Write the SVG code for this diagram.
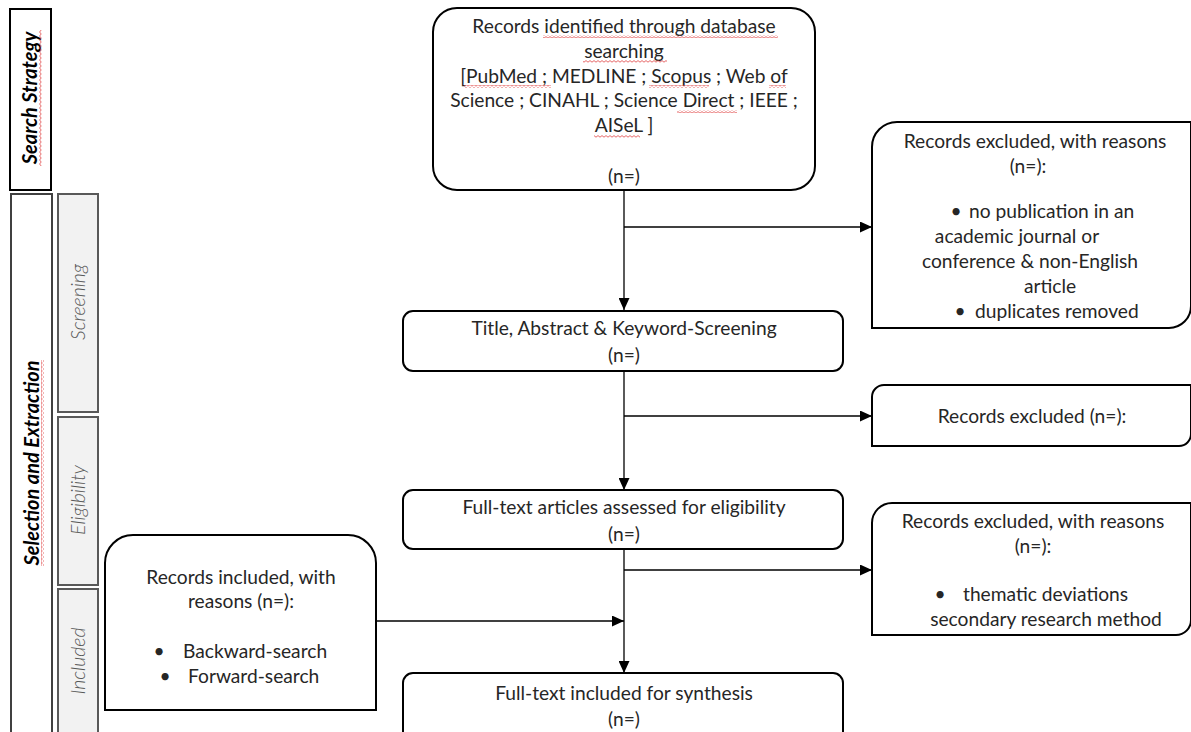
<svg xmlns="http://www.w3.org/2000/svg" width="1191" height="732" viewBox="0 0 1191 732">
<defs>
<style>
.box{fill:#fff;stroke:#000;stroke-width:2}
.side{fill:#fff;stroke:#404040;stroke-width:2}
.sub{fill:#f2f2f2;stroke:#595959;stroke-width:2}
.t{font-family:Lato,"Open Sans",sans-serif;font-size:19.2px;fill:#262626;text-anchor:middle}
.s{text-anchor:start}
.lab{font-family:Lato,"Open Sans",sans-serif;font-size:20px;font-weight:bold;font-style:italic;fill:#000;text-anchor:middle}
.slab{font-family:Lato,"Open Sans",sans-serif;font-size:19.5px;font-weight:300;font-style:italic;fill:#595959;text-anchor:middle}
.c{fill:none;stroke:#000;stroke-width:1.3}
.sq{fill:url(#wave)}
</style>
<pattern id="wave" width="4" height="3" patternUnits="userSpaceOnUse">
<path d="M0,2.2 L2,0.6 L4,2.2" fill="none" stroke="#e04040" stroke-width="0.8"/>
</pattern>
<marker id="ah" markerUnits="userSpaceOnUse" markerWidth="12" markerHeight="11" refX="12" refY="5.5" orient="auto">
<path d="M0,0 L12,5.5 L0,11 Z" fill="#000"/>
</marker>
</defs>
<rect width="1191" height="732" fill="#fff"/>

<g id="phase-search">
<rect class="side" x="10" y="9" width="41" height="181" style="stroke:#000"/>
<g transform="translate(30,98) rotate(-90)">
<text class="lab" x="0" y="7">Search Strategy</text>
<rect class="sq" x="-68" y="9" width="136" height="3"/>
</g>
</g>

<g id="phase-selection">
<rect class="side" x="11" y="194" width="41" height="545"/>
<g transform="translate(31,463) rotate(-90)">
<text class="lab" x="0" y="8">Selection and Extraction</text>
<rect class="sq" x="-103" y="10" width="206" height="3"/>
</g>
</g>

<g id="stage-screening">
<rect class="sub" x="58" y="194" width="40" height="218"/>
<text class="slab" transform="translate(78,302) rotate(-90)" x="0" y="7">Screening</text>
</g>
<g id="stage-eligibility">
<rect class="sub" x="58" y="417" width="40" height="168"/>
<text class="slab" transform="translate(78,500) rotate(-90)" x="0" y="7">Eligibility</text>
</g>
<g id="stage-included">
<rect class="sub" x="58" y="589" width="40" height="150"/>
<text class="slab" transform="translate(78,661) rotate(-90)" x="0" y="7">Included</text>
</g>

<g id="connectors">
<line class="c" x1="624" y1="190" x2="624" y2="310" marker-end="url(#ah)"/>
<line class="c" x1="624" y1="227" x2="872" y2="227" marker-end="url(#ah)"/>
<line class="c" x1="624" y1="371" x2="624" y2="490" marker-end="url(#ah)"/>
<line class="c" x1="624" y1="416" x2="872" y2="416" marker-end="url(#ah)"/>
<line class="c" x1="624" y1="549" x2="624" y2="673" marker-end="url(#ah)"/>
<line class="c" x1="624" y1="570" x2="872" y2="570" marker-end="url(#ah)"/>
<line class="c" x1="376" y1="621" x2="624" y2="621" marker-end="url(#ah)"/>
</g>

<g id="records-identified">
<rect class="box" x="433" y="8" width="382" height="182" rx="24"/>
<text class="t" x="624" y="33">Records identified through database</text>
<text class="t" x="624" y="58">searching</text>
<text class="t" x="624" y="83">[PubMed ; MEDLINE ; Scopus ; Web of</text>
<text class="t" x="624" y="107">Science ; CINAHL ; Science Direct ; IEEE ;</text>
<text class="t" x="624" y="132">AISeL ]</text>
<text class="t" x="624" y="183">(n=)</text>
<rect class="sq" x="543" y="35" width="235" height="3"/>
<rect class="sq" x="583" y="60" width="84" height="3"/>
<rect class="sq" x="464" y="85" width="87" height="3"/>
<rect class="sq" x="649" y="85" width="60" height="3"/>
<rect class="sq" x="769" y="85" width="17" height="3"/>
<rect class="sq" x="677" y="110" width="60" height="3"/>
<rect class="sq" x="594" y="135" width="46" height="3"/>
</g>

<g id="excluded-1">
<path class="box" d="M872,147 A25,25 0 0 1 897,122 H1191 V306 A22,22 0 0 1 1169,328 H872 Z"/>
<text class="t" x="1035" y="148">Records excluded, with reasons</text>
<text class="t" x="1028" y="173">(n=):</text>
<text class="t" x="956" y="218">•</text>
<text class="t s" x="969" y="218">no publication in an</text>
<text class="t" x="1017" y="243">academic journal or</text>
<text class="t" x="1030" y="268">conference &amp; non-English</text>
<text class="t" x="1050" y="293">article</text>
<text class="t" x="960" y="318">•</text>
<text class="t s" x="975" y="318">duplicates removed</text>
</g>

<g id="screening">
<rect class="box" x="403" y="311" width="440" height="60" rx="10"/>
<text class="t" x="624" y="335">Title, Abstract &amp; Keyword-Screening</text>
<text class="t" x="624" y="362">(n=)</text>
</g>

<g id="excluded-2">
<path class="box" d="M872,397 A12,12 0 0 1 884,385 H1191 V434 A12,12 0 0 1 1179,446 H872 Z"/>
<text class="t" x="1032" y="423">Records excluded (n=):</text>
</g>

<g id="eligibility">
<rect class="box" x="403" y="490" width="440" height="59" rx="10"/>
<text class="t" x="624" y="514">Full-text articles assessed for eligibility</text>
<text class="t" x="624" y="541">(n=)</text>
</g>

<g id="excluded-3">
<path class="box" d="M872,523 A20,20 0 0 1 892,503 H1191 V620 A15,15 0 0 1 1176,635 H872 Z"/>
<text class="t" x="1033" y="528">Records excluded, with reasons</text>
<text class="t" x="1033" y="553">(n=):</text>
<text class="t" x="940" y="601">•</text>
<text class="t s" x="963" y="601">thematic deviations</text>
<text class="t" x="1046" y="626">secondary research method</text>
</g>

<g id="included-extra">
<path class="box" d="M105,710 V563 A28,28 0 0 1 133,535 H348 A28,28 0 0 1 376,563 V710 Z"/>
<text class="t" x="241" y="584">Records included, with</text>
<text class="t" x="241" y="608">reasons (n=):</text>
<text class="t" x="159" y="658">•</text>
<text class="t s" x="183" y="658">Backward-search</text>
<text class="t" x="165" y="683">•</text>
<text class="t s" x="188" y="683">Forward-search</text>
</g>

<g id="synthesis">
<rect class="box" x="403" y="673" width="440" height="80" rx="10"/>
<text class="t" x="624" y="700">Full-text included for synthesis</text>
<text class="t" x="624" y="726">(n=)</text>
</g>
</svg>
